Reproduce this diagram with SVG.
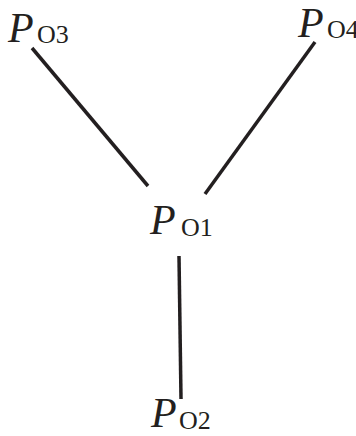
<svg xmlns="http://www.w3.org/2000/svg" width="356" height="436" viewBox="0 0 356 436">
<style>
.p{font-family:"Liberation Serif","Times New Roman",serif;font-style:italic;font-size:42px;fill:#231f20}
.s{font-family:"Liberation Serif","Times New Roman",serif;font-size:26px;fill:#231f20}
.c line{stroke:#231f20;stroke-width:3.5;stroke-linecap:butt}
</style>
<rect width="356" height="436" fill="#ffffff"/>
<g id="connectors" class="c">
<line x1="32" y1="48" x2="148" y2="186"/>
<line x1="315" y1="42" x2="205" y2="194"/>
<line x1="179" y1="256" x2="181" y2="399"/>
</g>
<g id="PO3"><text class="p" x="8" y="42">P</text><text class="s" x="37" y="43">O3</text></g>
<g id="PO4"><text class="p" x="298" y="37">P</text><text class="s" x="327" y="38">O4</text></g>
<g id="PO1"><text class="p" x="150" y="234">P</text><text class="s" x="181" y="235.5">O1</text></g>
<g id="PO2"><text class="p" x="151" y="427">P</text><text class="s" x="179" y="429">O2</text></g>
</svg>
